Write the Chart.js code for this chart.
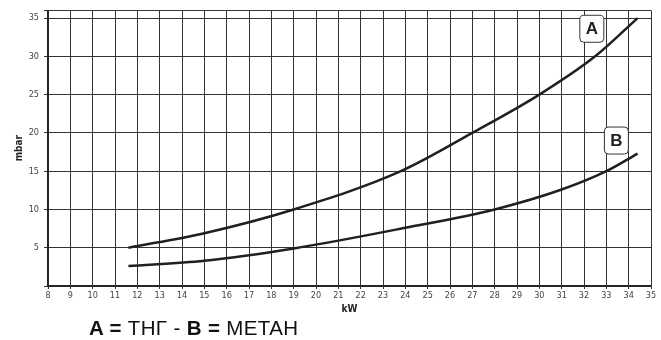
<!DOCTYPE html>
<html>
<head>
<meta charset="utf-8">
<script src="https://cdn.jsdelivr.net/npm/chart.js@4.4.1/dist/chart.umd.min.js"></script>
<style>
  html, body { margin: 0; padding: 0; background: #fff; }
  #wrap { position: relative; width: 661px; height: 340px; }
  #legendText {
    position: absolute; left: 89px; top: 316px;
    font-family: "Liberation Sans", Arial, sans-serif; font-size: 20.5px; color: #111;
    letter-spacing: 0.35px; white-space: nowrap;
  }
</style>
</head>
<body>
<div id="wrap">
  <canvas id="chart" width="661" height="340"></canvas>
  <div id="legendText"><b>A =</b> ΤΗΓ - <b>B =</b> ΜΕΤΑΗ</div>
</div>
<script>
// curve A (ΤΗΓ) and curve B (ΜΕΤΑΗ), kW vs mbar
const kwA = [11.6, 15, 19, 23.8, 27, 30, 32.5, 34.4];
const mbarA = [5.0, 6.9, 10.0, 15.0, 20.0, 25.0, 30.0, 35.0];

const kwB = [11.6, 15, 19, 24, 28, 31, 33, 34.4];
const mbarB = [2.6, 3.3, 4.9, 7.6, 10.0, 12.6, 15.0, 17.3];

const yTicks = [0, 5, 10, 15, 20, 25, 30, 35, 36];

// curve tags: letter plus where the tag sits (in data units)
const tagNames = ["A", "B"];
const tagKw = [32.35, 33.45];
const tagMbar = [33.6, 19.0];

const tickFont = { family: '"Liberation Sans Narrow", "DejaVu Sans Condensed", Arial, sans-serif', size: 9 };
const titleFont = { family: '"Liberation Sans Narrow", "DejaVu Sans Condensed", Arial, sans-serif', size: 10, weight: "bold" };
const lineColor = "#231f20";
const gridColor = "#333";

const toPoints = (xs, ys) => xs.map((x, i) => ({ x: x, y: ys[i] }));

const tagPlugin = {
    id: "curveTags",
    afterDatasetsDraw(chart) {
        const ctx = chart.ctx;
        const xs = chart.scales.x, ys = chart.scales.y;
        ctx.save();
        tagNames.forEach((name, i) => {
            const cx = xs.getPixelForValue(tagKw[i]);
            const cy = ys.getPixelForValue(tagMbar[i]);
            const w = 24, h = 27;
            ctx.beginPath();
            ctx.roundRect(cx - w / 2, cy - h / 2, w, h, 4);
            ctx.fillStyle = "#fff";
            ctx.fill();
            ctx.lineWidth = 1;
            ctx.strokeStyle = "#333";
            ctx.stroke();
            ctx.fillStyle = "#222";
            ctx.font = 'bold 17px "Liberation Sans", Arial, sans-serif';
            ctx.textAlign = "center";
            ctx.textBaseline = "middle";
            ctx.fillText(name, cx, cy + 1);
        });
        ctx.restore();
    }
};

new Chart(document.getElementById("chart").getContext("2d"), {
    type: "line",
    data: {
        datasets: [
            { label: "A", data: toPoints(kwA, mbarA), borderColor: lineColor, borderWidth: 2.5, pointRadius: 0, cubicInterpolationMode: "monotone", fill: false },
            { label: "B", data: toPoints(kwB, mbarB), borderColor: lineColor, borderWidth: 2.5, pointRadius: 0, cubicInterpolationMode: "monotone", fill: false }
        ]
    },
    options: {
        responsive: false,
        animation: false,
        layout: { padding: { left: 0, top: 10, right: 10, bottom: 22 } },
        plugins: { legend: { display: false }, tooltip: { enabled: false } },
        scales: {
            x: {
                type: "linear",
                min: 8, max: 35,
                ticks: { stepSize: 1, font: tickFont, color: "#444", padding: 1, maxRotation: 0, autoSkip: false },
                grid: { color: gridColor, lineWidth: 1, tickLength: 3 },
                border: { color: "#222", width: 1.5 },
                title: { display: true, text: "kW", font: titleFont, color: "#222", padding: { top: 0, bottom: 3 } },
                afterFit(scale) { scale.height = 32; }
            },
            y: {
                type: "linear",
                min: 0, max: 36,
                afterBuildTicks(scale) { scale.ticks = yTicks.map(v => ({ value: v })); },
                ticks: {
                    font: tickFont, color: "#444", padding: 5,
                    callback: (v) => (v === 0 || v === 36) ? "" : v
                },
                grid: { color: gridColor, lineWidth: 1, tickLength: 4 },
                border: { color: "#222", width: 1.5 },
                title: { display: true, text: "mbar", font: titleFont, color: "#222", padding: { top: 13, bottom: 0 } },
                afterFit(scale) { scale.width = 48; }
            }
        }
    },
    plugins: [tagPlugin]
});
</script>
</body>
</html>
